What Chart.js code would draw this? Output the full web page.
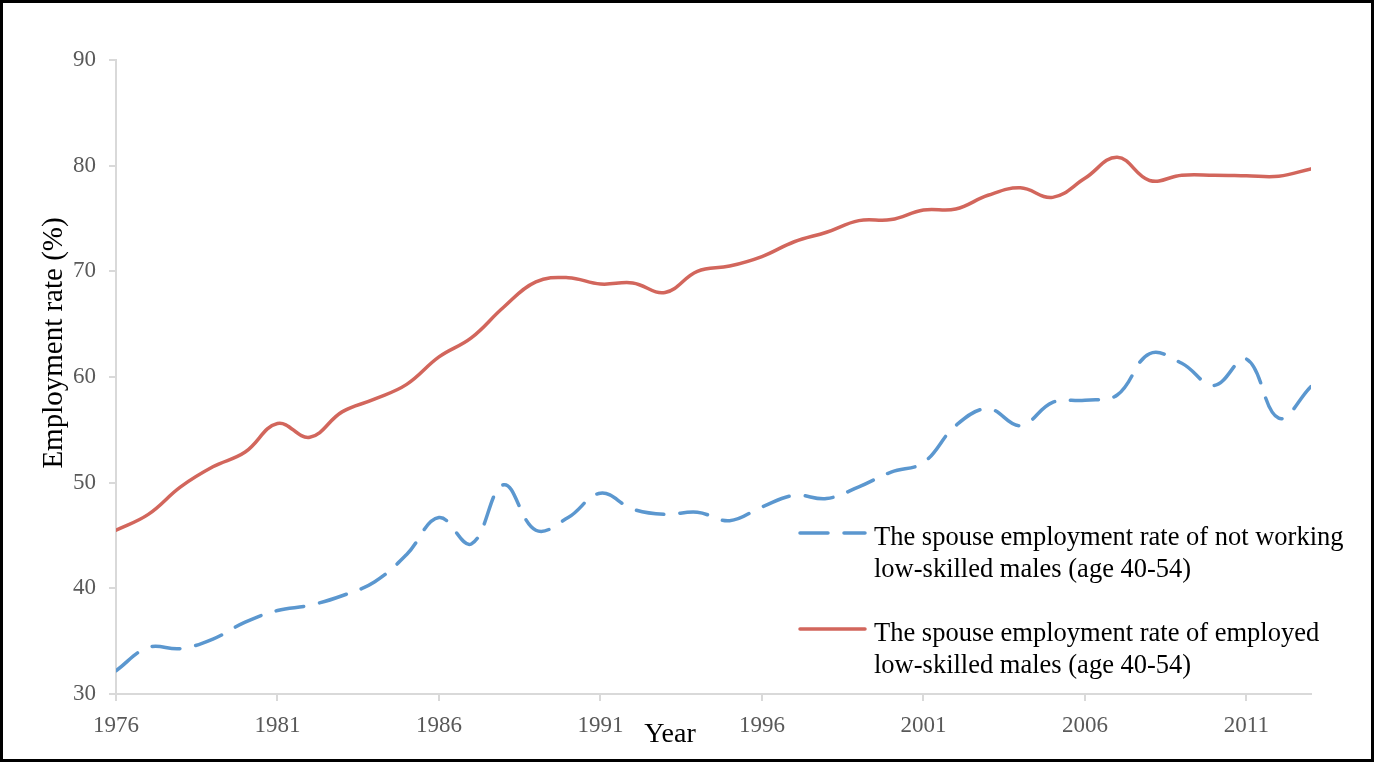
<!DOCTYPE html>
<html>
<head>
<meta charset="utf-8">
<title>Spouse employment rate</title>
<script src="https://cdn.jsdelivr.net/npm/chart.js@4/dist/chart.umd.min.js"></script>
<style>
  html, body { margin: 0; padding: 0; background: #fff; }
  #wrap { width: 1374px; height: 762px; position: relative; }
  canvas { display: block; }
</style>
</head>
<body>
<div id="wrap"><canvas id="c" width="1374" height="762"></canvas></div>
<script>
// Survey years
const years = [1976, 1977, 1978, 1979, 1980, 1981, 1982, 1983, 1984, 1985,
               1986, 1987, 1988, 1989, 1990, 1991, 1992, 1993, 1994, 1995,
               1996, 1997, 1998, 1999, 2000, 2001, 2002, 2003, 2004, 2005,
               2006, 2007, 2008, 2009, 2010, 2011, 2012, 2013];

// Spouse employment rate (%) of not working low-skilled males aged 40-54
const notWorkingRate = [32.2, 34.4, 34.3, 35.2, 36.8, 37.9, 38.4, 39.3, 40.6, 43.2,
                        46.7, 44.2, 49.8, 45.5, 46.7, 49.0, 47.5, 47.0, 47.2, 46.4,
                        47.7, 48.8, 48.5, 49.6, 51.0, 51.9, 55.4, 57.0, 55.4, 57.6,
                        57.8, 58.3, 62.2, 61.3, 59.2, 61.7, 56.1, 59.1];

// Spouse employment rate (%) of employed low-skilled males aged 40-54
const employedRate = [45.5, 47.0, 49.6, 51.5, 52.9, 55.6, 54.3, 56.7, 57.9, 59.3,
                      61.9, 63.7, 66.6, 69.0, 69.4, 68.8, 68.9, 68.0, 70.0, 70.5,
                      71.4, 72.8, 73.7, 74.8, 74.9, 75.8, 75.9, 77.2, 77.9, 77.0,
                      78.8, 80.8, 78.6, 79.1, 79.1, 79.05, 79.0, 79.7];

// Labelled years on the horizontal axis
const xTickYears = [1976, 1981, 1986, 1991, 1996, 2001, 2006, 2011];

// Legend text, one entry per line
const notWorkingLabel = ['The spouse employment rate of not working', 'low-skilled males (age 40-54)'];
const employedLabel = ['The spouse employment rate of employed', 'low-skilled males (age 40-54)'];

const axisTitleX = 'Year';
const axisTitleY = 'Employment rate (%)';

const BLUE = '#5b97cf';
const RED = '#d2665c';
const AXIS_GREY = '#d9d9d9';
const TICK_TEXT = '#595959';
const SERIF = '"Liberation Serif", "Times New Roman", serif';

const toPoints = (vals) => years.map((y, i) => ({ x: y, y: vals[i] }));

// Frame, axis titles and the two-line legend
const decor = {
  id: 'decor',
  beforeDraw(chart) {
    const ctx = chart.ctx;
    ctx.save();
    ctx.fillStyle = '#fff';
    ctx.fillRect(0, 0, chart.width, chart.height);
    ctx.restore();
  },
  afterDraw(chart) {
    const ctx = chart.ctx;
    ctx.save();

    // outer frame
    ctx.strokeStyle = '#000';
    ctx.lineWidth = 3;
    ctx.strokeRect(1.5, 1.5, chart.width - 3, chart.height - 3);

    // axis titles
    ctx.fillStyle = '#000';
    ctx.font = '28px ' + SERIF;
    ctx.textAlign = 'center';
    ctx.textBaseline = 'alphabetic';
    ctx.fillText(axisTitleX, 670, 742);

    ctx.save();
    ctx.font = '29px ' + SERIF;
    ctx.translate(62, 343);
    ctx.rotate(-Math.PI / 2);
    ctx.fillText(axisTitleY, 0, 0);
    ctx.restore();

    // legend
    const items = [
      { ds: chart.data.datasets[0], lines: notWorkingLabel, y: 533 },
      { ds: chart.data.datasets[1], lines: employedLabel, y: 629 }
    ];
    const x0 = 798, x1 = 867, tx = 874, lineGap = 32;
    items.forEach(it => {
      ctx.save();
      ctx.strokeStyle = it.ds.borderColor;
      ctx.lineWidth = it.ds.borderWidth;
      ctx.lineCap = it.ds.borderCapStyle || 'butt';
      ctx.setLineDash(it.ds.borderDash || []);
      ctx.beginPath();
      ctx.moveTo(x0 + 2, it.y);
      ctx.lineTo(x1 - 2, it.y);
      ctx.stroke();
      ctx.restore();

      ctx.fillStyle = '#000';
      ctx.font = '26.5px ' + SERIF;
      ctx.textAlign = 'left';
      ctx.textBaseline = 'alphabetic';
      it.lines.forEach((t, k) => ctx.fillText(t, tx, it.y + 12 + k * lineGap));
    });
    ctx.restore();
  }
};

new Chart(document.getElementById('c'), {
  type: 'line',
  data: {
    datasets: [
      {
        label: notWorkingLabel.join(' '),
        data: toPoints(notWorkingRate),
        borderColor: BLUE,
        borderWidth: 3.5,
        borderDash: [28, 16],
        borderCapStyle: 'round',
        pointRadius: 0,
        tension: 0.4,
        fill: false
      },
      {
        label: employedLabel.join(' '),
        data: toPoints(employedRate),
        borderColor: RED,
        borderWidth: 3.5,
        borderCapStyle: 'round',
        pointRadius: 0,
        tension: 0.4,
        fill: false
      }
    ]
  },
  options: {
    responsive: false,
    animation: false,
    devicePixelRatio: 1,
    layout: { padding: { top: 60, right: 63, left: 0, bottom: 0 } },
    plugins: {
      legend: { display: false },
      tooltip: { enabled: false }
    },
    scales: {
      x: {
        type: 'linear',
        min: years[0],
        max: years[years.length - 1],
        afterBuildTicks: (scale) => { scale.ticks = xTickYears.map(v => ({ value: v })); },
        afterFit: (scale) => { scale.height = 68; },
        ticks: {
          color: TICK_TEXT,
          font: { family: SERIF, size: 23 },
          padding: 11,
          maxRotation: 0,
          callback: (v) => String(v)
        },
        grid: { display: true, drawOnChartArea: false, drawTicks: true, tickLength: 7, color: AXIS_GREY, lineWidth: 2 },
        border: { display: true, color: AXIS_GREY, width: 2 }
      },
      y: {
        type: 'linear',
        min: 30,
        max: 90,
        afterFit: (scale) => { scale.width = 116; },
        ticks: {
          stepSize: 10,
          color: TICK_TEXT,
          font: { family: SERIF, size: 23 },
          padding: 13
        },
        grid: { display: true, drawOnChartArea: false, drawTicks: true, tickLength: 7, color: AXIS_GREY, lineWidth: 2 },
        border: { display: true, color: AXIS_GREY, width: 2 }
      }
    }
  },
  plugins: [decor]
});
</script>
</body>
</html>
